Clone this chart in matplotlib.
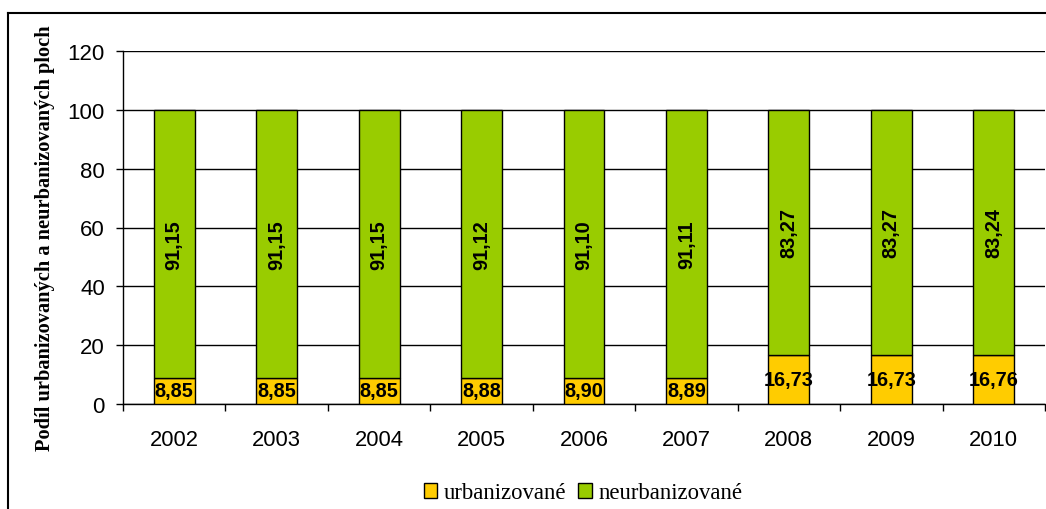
import matplotlib
matplotlib.use("Agg")
import matplotlib.pyplot as plt
from matplotlib.lines import Line2D
import numpy as np

years = ["2002", "2003", "2004", "2005", "2006", "2007", "2008", "2009", "2010"]
urban = [8.85, 8.85, 8.85, 8.88, 8.90, 8.89, 16.73, 16.73, 16.76]
nonurban = [91.15, 91.15, 91.15, 91.12, 91.10, 91.11, 83.27, 83.27, 83.24]
yticks = [0, 20, 40, 60, 80, 100, 120]

def fmt(v):
    return f"{v:.2f}".replace(".", ",")

fig = plt.figure(figsize=(10.46, 5.10), dpi=100)
ax = fig.add_axes([123/1046, 1-405/510, 922/1046, 353/510])

x = np.arange(len(years))
w = 0.4
b1 = ax.bar(x, urban, w, color="#FFCC00", edgecolor="black", linewidth=1.0, zorder=3, label="urbanizované")
b2 = ax.bar(x, nonurban, w, bottom=urban, color="#99CC00", edgecolor="black", linewidth=1.0, zorder=3, label="neurbanizované")

for i in range(len(years)):
    ax.text(x[i], urban[i]/2, fmt(urban[i]), ha="center", va="center", fontsize=14.3,
            fontweight="bold", family="Liberation Sans", zorder=4)
    ax.text(x[i], urban[i] + nonurban[i]/2, fmt(nonurban[i]), ha="center", va="center",
            fontsize=14.3, fontweight="bold", family="Liberation Sans", rotation=90, zorder=4)

ax.set_xlim(-0.5, len(years) - 0.5)
ax.set_ylim(0, 120)
ax.set_yticks(yticks)
ax.set_yticklabels([str(t) for t in yticks], family="Liberation Sans", fontsize=16)
ax.grid(axis="y", color="black", linewidth=1.0, zorder=1)
ax.set_axisbelow(True)

ax.set_xticks(x)
ax.set_xticklabels(years, family="Liberation Sans", fontsize=15.8)
ax.set_xticks(np.arange(len(years) + 1) - 0.5, minor=True)
ax.tick_params(axis="x", which="major", length=0, pad=18)
ax.tick_params(axis="x", which="minor", length=5, width=1.0, direction="out")
ax.tick_params(axis="y", length=5, width=1.0, pad=8)

for s in ["top", "right"]:
    ax.spines[s].set_visible(False)
for s in ["left", "bottom"]:
    ax.spines[s].set_linewidth(1.0)

ax.set_ylabel("Podíl urbanizovaných a neurbanizovaných ploch", family="Liberation Serif",
              fontweight="bold", fontsize=14.7)
ax.yaxis.set_label_coords(-0.0738, 0.473)

leg = fig.legend(handles=[b1, b2], loc="center", bbox_to_anchor=(583/1046, 1-494/510),
                 ncol=2, frameon=False, prop={"family": "Liberation Serif", "size": 16.4},
                 handlelength=0.6, handleheight=0.6, handletextpad=0.3, columnspacing=0.5)

fig.add_artist(Line2D([8/1046, 8/1046], [0, 1-14/510], transform=fig.transFigure, color="black", linewidth=1.5))
fig.add_artist(Line2D([8/1046, 1], [1-14/510, 1-14/510], transform=fig.transFigure, color="black", linewidth=1.5))

fig.savefig("out.png", dpi=100)
